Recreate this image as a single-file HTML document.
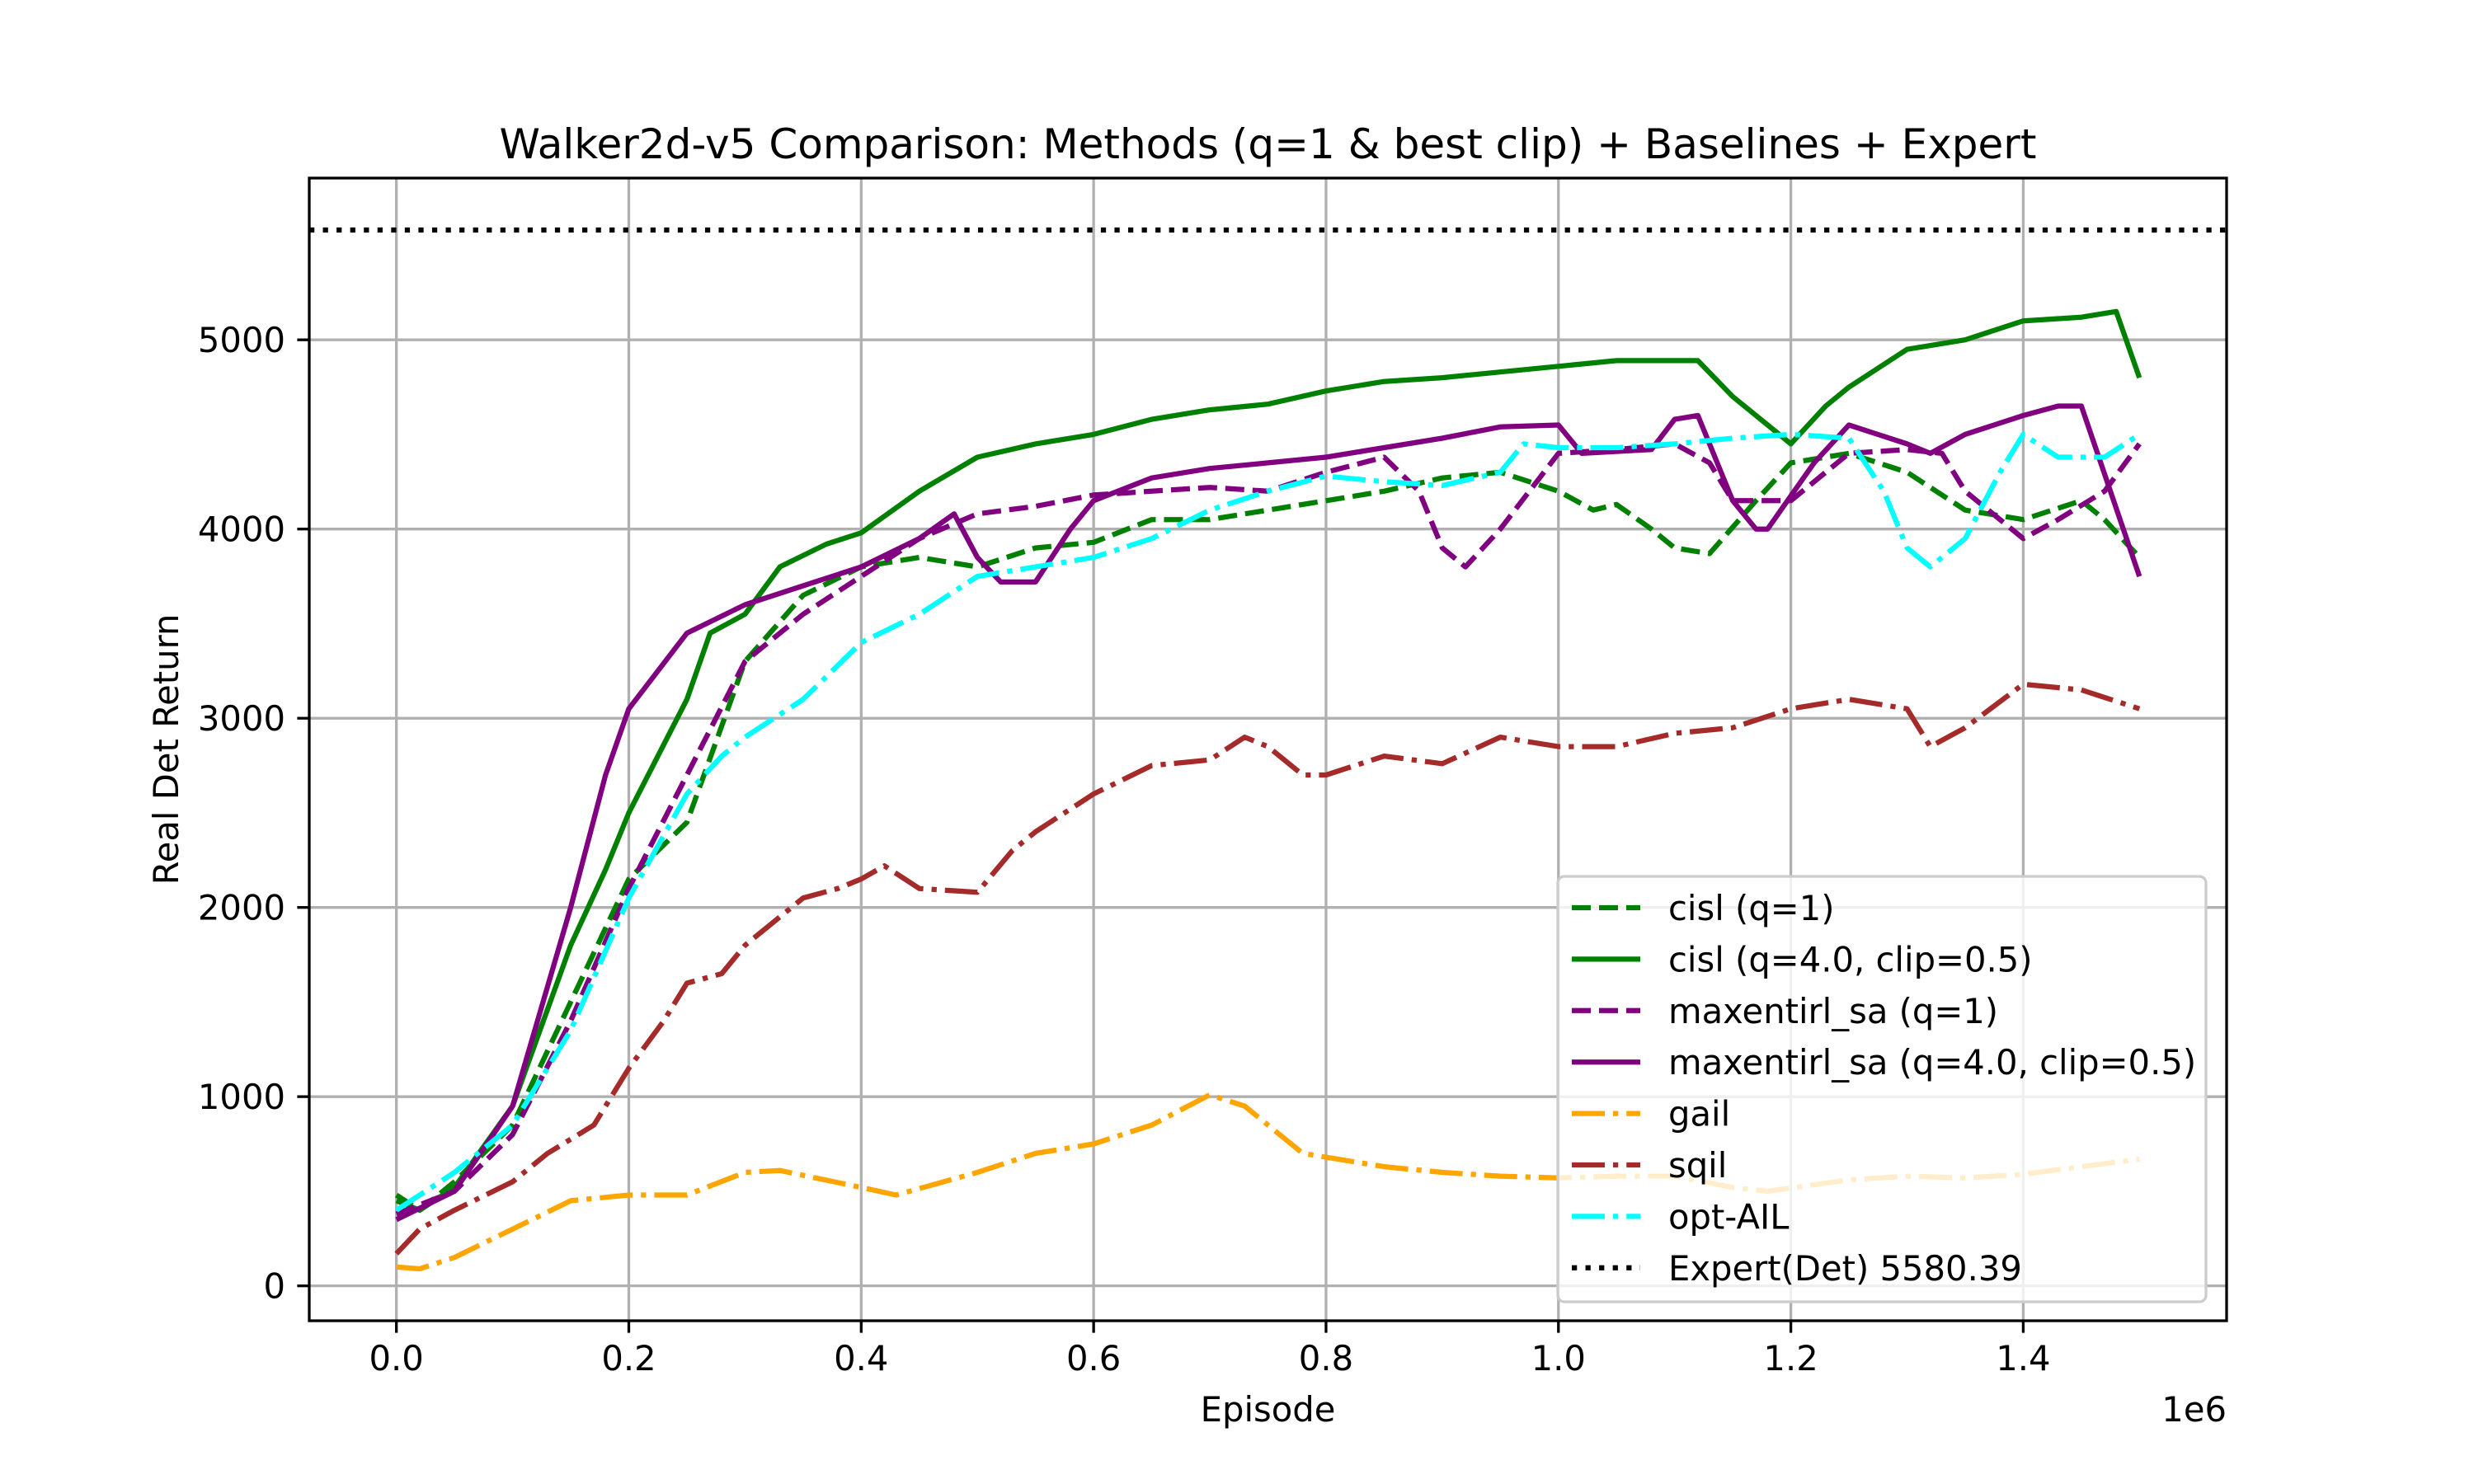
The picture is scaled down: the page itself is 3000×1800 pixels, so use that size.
<!DOCTYPE html>
<html><head><meta charset="utf-8"><style>
html,body{margin:0;padding:0;background:#fff;}
svg{display:block;font-family:"DejaVu Sans","Liberation Sans",sans-serif;}
</style></head><body>
<svg id="chart" width="3000" height="1800" viewBox="0 0 3000 1800" xmlns="http://www.w3.org/2000/svg">
<rect x="0" y="0" width="3000" height="1800" fill="#fff"/>
<g id="grid"></g>
<g id="series"></g>
<g id="axes"></g>
<g id="legend"></g>
</svg>
<script>
const cislQ1X=[0,0.02,0.05,0.1,0.15,0.2,0.25,0.3,0.35,0.4,0.45,0.5,0.55,0.6,0.65,0.7,0.75,0.8,0.85,0.9,0.95,1.0,1.03,1.05,1.08,1.1,1.13,1.17,1.2,1.25,1.3,1.35,1.4,1.45,1.47,1.5];
const cislQ1=[480,400,550,850,1500,2150,2450,3300,3650,3800,3850,3800,3900,3930,4050,4050,4100,4150,4200,4270,4300,4200,4100,4130,4000,3900,3870,4150,4350,4400,4300,4100,4050,4150,4050,3850];
const cislBestX=[0,0.02,0.05,0.1,0.15,0.18,0.2,0.25,0.27,0.3,0.33,0.37,0.4,0.45,0.5,0.55,0.6,0.65,0.7,0.75,0.8,0.85,0.9,0.95,1.0,1.05,1.1,1.12,1.15,1.2,1.23,1.25,1.3,1.35,1.4,1.45,1.48,1.5];
const cislBest=[450,400,520,950,1800,2200,2500,3100,3450,3550,3800,3920,3980,4200,4380,4450,4500,4580,4630,4660,4730,4780,4800,4830,4860,4890,4890,4890,4700,4450,4650,4750,4950,5000,5100,5120,5150,4800];
const maxQ1X=[0,0.05,0.1,0.15,0.2,0.25,0.3,0.35,0.4,0.45,0.5,0.55,0.6,0.65,0.7,0.75,0.8,0.85,0.88,0.9,0.92,0.95,1.0,1.05,1.1,1.13,1.15,1.2,1.25,1.3,1.33,1.35,1.4,1.43,1.47,1.5];
const maxQ1=[380,500,800,1400,2100,2700,3300,3550,3750,3950,4080,4120,4180,4200,4220,4200,4300,4380,4200,3900,3800,4000,4400,4420,4450,4350,4150,4150,4400,4420,4400,4200,3950,4050,4200,4450];
const maxBestX=[0,0.05,0.1,0.15,0.18,0.2,0.25,0.3,0.35,0.4,0.45,0.48,0.5,0.52,0.55,0.58,0.6,0.65,0.7,0.75,0.8,0.85,0.9,0.95,1.0,1.02,1.08,1.1,1.12,1.15,1.17,1.18,1.22,1.25,1.3,1.32,1.35,1.4,1.43,1.45,1.5];
const maxBest=[350,500,950,2000,2700,3050,3450,3600,3700,3800,3950,4080,3850,3720,3720,4000,4150,4270,4320,4350,4380,4430,4480,4540,4550,4400,4420,4580,4600,4150,4000,4000,4350,4550,4450,4400,4500,4600,4650,4650,3750];
const gailX=[0,0.02,0.05,0.1,0.15,0.2,0.25,0.3,0.33,0.4,0.43,0.5,0.55,0.6,0.65,0.7,0.73,0.78,0.85,0.9,0.95,1.0,1.05,1.1,1.15,1.18,1.25,1.3,1.35,1.4,1.45,1.5];
const gail=[100,90,150,300,450,480,480,600,610,520,480,600,700,750,850,1010,950,700,630,600,580,570,580,580,520,500,560,580,570,590,630,670];
const sqilX=[0,0.02,0.05,0.1,0.13,0.17,0.2,0.23,0.25,0.28,0.3,0.35,0.38,0.4,0.42,0.45,0.5,0.53,0.55,0.6,0.65,0.7,0.73,0.75,0.78,0.8,0.85,0.9,0.95,1.0,1.05,1.1,1.15,1.2,1.25,1.3,1.32,1.35,1.4,1.45,1.5];
const sqil=[170,300,400,550,700,850,1150,1400,1600,1650,1800,2050,2100,2150,2220,2100,2080,2300,2400,2600,2750,2780,2900,2850,2700,2700,2800,2760,2900,2850,2850,2920,2950,3050,3100,3050,2850,2950,3180,3150,3050];
const optX=[0,0.05,0.1,0.15,0.2,0.25,0.28,0.3,0.35,0.4,0.45,0.5,0.55,0.6,0.65,0.7,0.75,0.8,0.85,0.9,0.95,0.97,1.0,1.05,1.1,1.15,1.2,1.25,1.28,1.3,1.32,1.35,1.38,1.4,1.43,1.47,1.5];
const optAIL=[400,600,850,1350,2050,2600,2800,2900,3100,3400,3550,3750,3800,3850,3950,4100,4200,4280,4250,4230,4300,4450,4430,4430,4450,4480,4500,4480,4200,3900,3800,3950,4300,4500,4380,4380,4500];
const expertValue=5580.39;
const xTicks=[0.0,0.2,0.4,0.6,0.8,1.0,1.2,1.4];
const xTickLabels=["0.0","0.2","0.4","0.6","0.8","1.0","1.2","1.4"];
const yTicks=[0,1000,2000,3000,4000,5000];
const yTickLabels=["0","1000","2000","3000","4000","5000"];
const legendLabels=["cisl (q=1)","cisl (q=4.0, clip=0.5)","maxentirl_sa (q=1)","maxentirl_sa (q=4.0, clip=0.5)","gail","sqil","opt-AIL","Expert(Det) 5580.39"];

const AX={l:375,r:2700,t:216,b:1602};
const XMIN=-0.075,XMAX=1.575,YMIN=-184.5,YMAX=5854.9;
function sx(v){return AX.l+(v-XMIN)/(XMAX-XMIN)*(AX.r-AX.l);}
function sy(v){return AX.b-(v-YMIN)/(YMAX-YMIN)*(AX.b-AX.t);}
const NS="http://www.w3.org/2000/svg";
function mk(tag,attrs,parent){const e=document.createElementNS(NS,tag);for(const k in attrs)e.setAttribute(k,attrs[k]);parent.appendChild(e);return e;}
const grid=document.getElementById('grid'),ser=document.getElementById('series'),axes=document.getElementById('axes'),leg=document.getElementById('legend');

xTicks.forEach((t,i)=>{
  const g=mk('line',{x1:sx(t),x2:sx(t),y1:AX.t,y2:AX.b,stroke:'#b0b0b0','stroke-width':3.3},grid);
  
  
  const tk=mk('line',{x1:sx(t),x2:sx(t),y1:AX.b,y2:AX.b+14.6,stroke:'#000','stroke-width':3.3},axes);
  
  
  const tx=mk('text',{x:sx(t),y:AX.b+60,'font-size':41.7,'text-anchor':'middle',fill:'#000'},axes);
  tx.textContent=xTickLabels[i];
  
  
});
yTicks.forEach((t,i)=>{
  const g=mk('line',{x1:AX.l,x2:AX.r,y1:sy(t),y2:sy(t),stroke:'#b0b0b0','stroke-width':3.3},grid);
  
  
  const tk=mk('line',{x1:AX.l-14.6,x2:AX.l,y1:sy(t),y2:sy(t),stroke:'#000','stroke-width':3.3},axes);
  
  
  const tx=mk('text',{x:AX.l-29,y:sy(t)+15,'font-size':41.7,'text-anchor':'end',fill:'#000'},axes);
  tx.textContent=yTickLabels[i];
  
  
});

const styles=[
 {c:'#008000',d:'23,10'},{c:'#008000',d:''},{c:'#800080',d:'23,10'},{c:'#800080',d:''},
 {c:'#FFA500',d:'40,10,6.25,10'},{c:'#A52A2A',d:'40,10,6.25,10'},{c:'#00FFFF',d:'40,10,6.25,10'},{c:'#000',d:'6.25,10.3'}];
const seriesX=[cislQ1X,cislBestX,maxQ1X,maxBestX,gailX,sqilX,optX];
const seriesY=[cislQ1,cislBest,maxQ1,maxBest,gail,sqil,optAIL];
const seriesNames=['cisl-q1-line','cisl-best-line','maxentirl-q1-line','maxentirl-best-line','gail-line','sqil-line','opt-ail-line'];
[0,1,2,3,4,5,6].forEach(i=>{
  const X=seriesX[i],Y=seriesY[i];
  const pts=X.map((x,j)=>sx(x).toFixed(1)+','+sy(Y[j]).toFixed(1)).join(' ');
  const p=mk('polyline',{points:pts,fill:'none',stroke:styles[i].c,'stroke-width':6.25,'stroke-linejoin':'round'},ser);
  if(styles[i].d)p.setAttribute('stroke-dasharray',styles[i].d);
  
  
});
const ex=mk('line',{x1:AX.l,x2:AX.r,y1:sy(expertValue),y2:sy(expertValue),stroke:'#000','stroke-width':6.25,'stroke-dasharray':'6.25,10.3'},ser);



const frame=mk('rect',{x:AX.l,y:AX.t,width:AX.r-AX.l,height:AX.b-AX.t,fill:'none',stroke:'#000','stroke-width':3.3},axes);



const title=mk('text',{x:(AX.l+AX.r)/2,y:192,'font-size':50,'text-anchor':'middle',fill:'#000'},axes);
title.textContent='Walker2d-v5 Comparison: Methods (q=1 & best clip) + Baselines + Expert';


const xl=mk('text',{x:(AX.l+AX.r)/2,y:1724,'font-size':41.7,'text-anchor':'middle',fill:'#000'},axes);
xl.textContent='Episode';


const off=mk('text',{x:AX.r,y:1724,'font-size':41.7,'text-anchor':'end',fill:'#000'},axes);
off.textContent='1e6';


const yl=mk('text',{x:0,y:0,'font-size':41.7,'text-anchor':'middle',fill:'#000',transform:'translate(216,'+((AX.t+AX.b)/2)+') rotate(-90)'},axes);
yl.textContent='Real Det Return';



const LB={x:1889,y:1063,w:786,h:516};
const box=mk('rect',{x:LB.x,y:LB.y,width:LB.w,height:LB.h,rx:8,fill:'rgba(255,255,255,0.8)',stroke:'#cccccc','stroke-width':3.3},leg);


legendLabels.forEach((lab,i)=>{
  const y=LB.y+38+i*62.4;
  const h=mk('line',{x1:1906,x2:1989,y1:y,y2:y,stroke:styles[i].c,'stroke-width':6.25},leg);
  if(styles[i].d)h.setAttribute('stroke-dasharray',styles[i].d);
  
  
  const t=mk('text',{x:2023,y:y+15,'font-size':41.7,fill:'#000'},leg);
  t.textContent=lab;
  
  
});
</script>
</body></html>
